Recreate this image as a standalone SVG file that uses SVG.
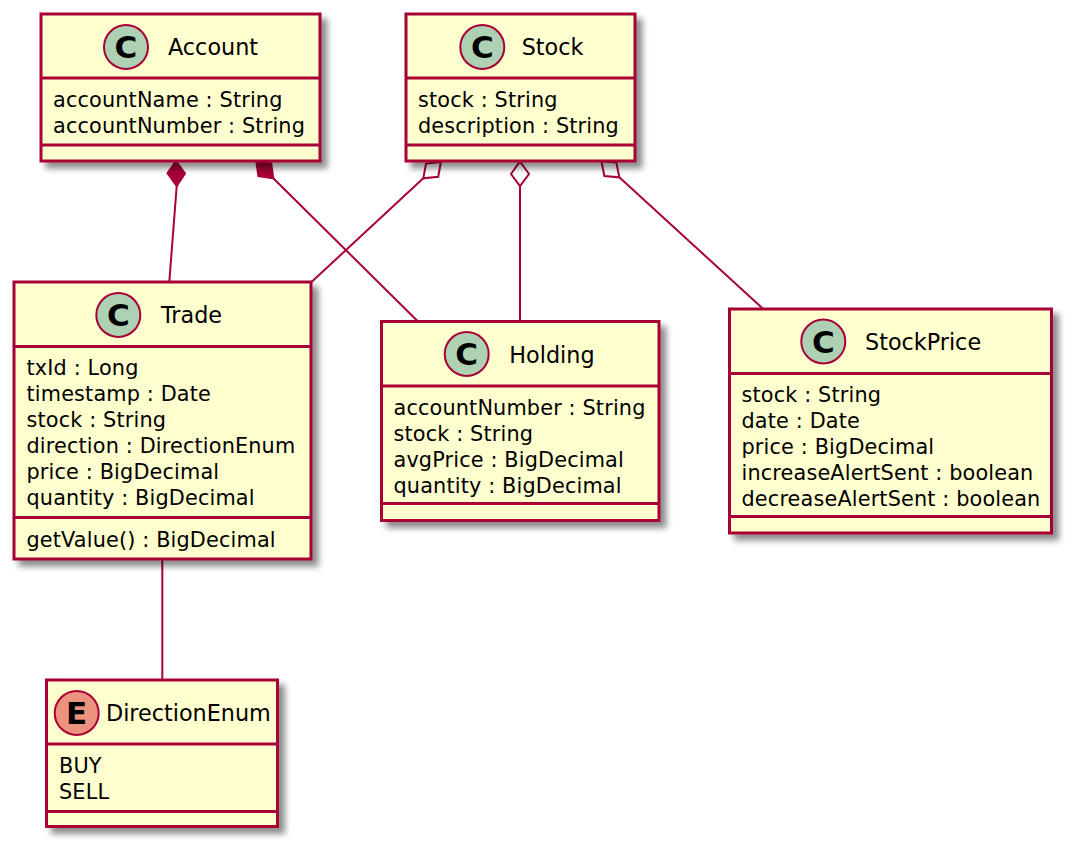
<svg xmlns="http://www.w3.org/2000/svg" width="1077" height="853" viewBox="0 0 1077 853">
  <defs>
    <filter id="shadow" x="-10%" y="-10%" width="130%" height="130%">
      <feGaussianBlur in="SourceAlpha" stdDeviation="3"/>
      <feOffset dx="6" dy="6" result="off"/>
      <feComponentTransfer><feFuncA type="linear" slope="0.45"/></feComponentTransfer>
      <feMerge><feMergeNode/><feMergeNode in="SourceGraphic"/></feMerge>
    </filter>
    <style>
      .box { fill: #FEFECE; stroke: #A80036; stroke-width: 3; }
      .div { stroke: #A80036; stroke-width: 3; }
      .cls { fill: #ADD1B2; stroke: #A80036; stroke-width: 2; }
      .enm { fill: #EB937F; stroke: #A80036; stroke-width: 2; }
      .glyph { font-family: "DejaVu Sans", sans-serif; font-weight: bold; font-size: 31px; fill: #000; text-anchor: middle; }
      .title { font-family: "DejaVu Sans", sans-serif; font-size: 22.3px; fill: #000; }
      .attr { font-family: "DejaVu Sans", sans-serif; font-size: 20.8px; letter-spacing: 0.15px; fill: #000; }
      .link { stroke: #A80036; stroke-width: 2; fill: none; }
      .comp { fill: #A80036; stroke: #A80036; stroke-width: 2; stroke-linejoin: miter; }
      .aggr { fill: #FFFFFF; stroke: #A80036; stroke-width: 2; stroke-linejoin: miter; }
    </style>
  </defs>

  <!-- associations between the classes -->
  <g id="connectors">
    <!-- Account composes Trade -->
    <line class="link" x1="176.7" y1="186" x2="169.3" y2="282"/>
    <polygon class="comp" points="176,161 185,173.5 176.7,186 167.5,173.2"/>
    <!-- Account composes Holding -->
    <line class="link" x1="273.3" y1="178.3" x2="418" y2="321.5"/>
    <polygon class="comp" points="256.3,161.3 271.2,163.4 273.3,178.3 258.4,176.2"/>
    <!-- Stock aggregates Trade -->
    <line class="link" x1="423.3" y1="178.3" x2="311.5" y2="282"/>
    <polygon class="aggr" points="440.9,162 438.2,176.8 423.3,178.3 426,163.6"/>
    <!-- Stock aggregates Holding -->
    <line class="link" x1="520" y1="186" x2="520" y2="321.5"/>
    <polygon class="aggr" points="520,161.5 529,174 520,186 511,174"/>
    <!-- Stock aggregates StockPrice -->
    <line class="link" x1="619.3" y1="177.3" x2="763.3" y2="309"/>
    <polygon class="aggr" points="601.4,161.3 616.4,162.6 619.3,177.3 604.4,176"/>
    <!-- Trade uses DirectionEnum -->
    <line class="link" x1="162.3" y1="559" x2="162.3" y2="680"/>
  </g>

  <g id="Account">
    <rect class="box" x="41" y="14" width="279" height="147" filter="url(#shadow)"/>
    <circle class="cls" cx="126" cy="47" r="22"/>
    <text class="glyph" x="126" y="58">C</text>
    <text class="title" x="168" y="55">Account</text>
    <line class="div" x1="41" y1="78" x2="320" y2="78"/>
    <text class="attr" x="53" y="106.7">accountName : String</text>
    <text class="attr" x="53" y="132.7">accountNumber : String</text>
    <line class="div" x1="41" y1="145" x2="320" y2="145"/>
  </g>

  <g id="Stock">
    <rect class="box" x="406" y="14" width="229" height="147" filter="url(#shadow)"/>
    <circle class="cls" cx="482.3" cy="47" r="22"/>
    <text class="glyph" x="482.3" y="58">C</text>
    <text class="title" x="521.7" y="55">Stock</text>
    <line class="div" x1="406" y1="78" x2="635" y2="78"/>
    <text class="attr" x="418" y="106.7">stock : String</text>
    <text class="attr" x="418" y="132.7">description : String</text>
    <line class="div" x1="406" y1="145" x2="635" y2="145"/>
  </g>

  <g id="Trade">
    <rect class="box" x="14" y="282" width="297" height="277" filter="url(#shadow)"/>
    <circle class="cls" cx="118.3" cy="315" r="22"/>
    <text class="glyph" x="118.3" y="326">C</text>
    <text class="title" x="161" y="323">Trade</text>
    <line class="div" x1="14" y1="346.5" x2="311" y2="346.5"/>
    <text class="attr" x="26.5" y="375">txId : Long</text>
    <text class="attr" x="26.5" y="401">timestamp : Date</text>
    <text class="attr" x="26.5" y="427">stock : String</text>
    <text class="attr" x="26.5" y="453">direction : DirectionEnum</text>
    <text class="attr" x="26.5" y="479">price : BigDecimal</text>
    <text class="attr" x="26.5" y="505">quantity : BigDecimal</text>
    <line class="div" x1="14" y1="517.5" x2="311" y2="517.5"/>
    <text class="attr" x="26.5" y="546.5">getValue() : BigDecimal</text>
  </g>

  <g id="Holding">
    <rect class="box" x="381.5" y="321.5" width="277.5" height="199" filter="url(#shadow)"/>
    <circle class="cls" cx="466.7" cy="354" r="22"/>
    <text class="glyph" x="466.7" y="365">C</text>
    <text class="title" x="509.3" y="362.5">Holding</text>
    <line class="div" x1="381.5" y1="386" x2="659" y2="386"/>
    <text class="attr" x="393.5" y="415">accountNumber : String</text>
    <text class="attr" x="393.5" y="441">stock : String</text>
    <text class="attr" x="393.5" y="467">avgPrice : BigDecimal</text>
    <text class="attr" x="393.5" y="493">quantity : BigDecimal</text>
    <line class="div" x1="381.5" y1="503.5" x2="659" y2="503.5"/>
  </g>

  <g id="StockPrice">
    <rect class="box" x="729.5" y="309" width="322" height="224" filter="url(#shadow)"/>
    <circle class="cls" cx="823.3" cy="341.5" r="22"/>
    <text class="glyph" x="823.3" y="352.5">C</text>
    <text class="title" x="865" y="349.5">StockPrice</text>
    <line class="div" x1="729.5" y1="373.5" x2="1051.5" y2="373.5"/>
    <text class="attr" x="741.5" y="402">stock : String</text>
    <text class="attr" x="741.5" y="428">date : Date</text>
    <text class="attr" x="741.5" y="454">price : BigDecimal</text>
    <text class="attr" x="741.5" y="480">increaseAlertSent : boolean</text>
    <text class="attr" x="741.5" y="506">decreaseAlertSent : boolean</text>
    <line class="div" x1="729.5" y1="516.5" x2="1051.5" y2="516.5"/>
  </g>

  <g id="DirectionEnum">
    <rect class="box" x="46.5" y="680" width="231" height="146.5" filter="url(#shadow)"/>
    <circle class="enm" cx="76.7" cy="713" r="22"/>
    <text class="glyph" x="76.7" y="724">E</text>
    <text class="title" x="106" y="721">DirectionEnum</text>
    <line class="div" x1="46.5" y1="744" x2="277.5" y2="744"/>
    <text class="attr" x="59" y="773">BUY</text>
    <text class="attr" x="59" y="799">SELL</text>
    <line class="div" x1="46.5" y1="811.5" x2="277.5" y2="811.5"/>
  </g>
</svg>
